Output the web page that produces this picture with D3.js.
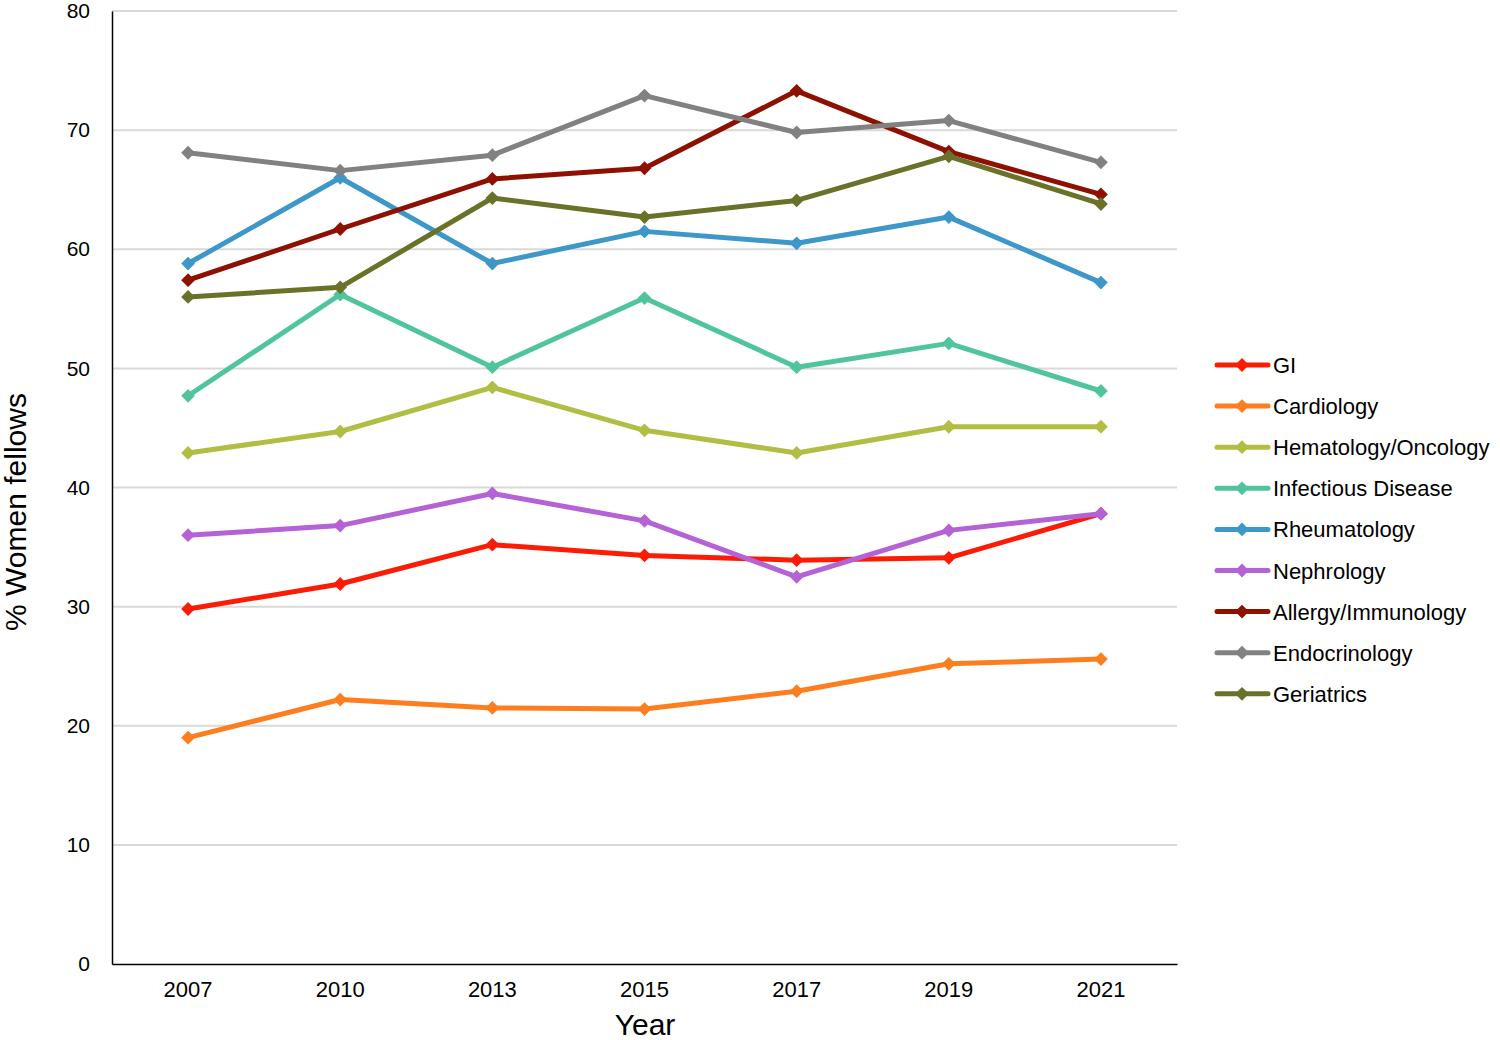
<!DOCTYPE html>
<html><head><meta charset="utf-8">
<script src="https://cdn.jsdelivr.net/npm/d3@7"></script>
<style>body{margin:0;background:#fff;} text{font-family:"Liberation Sans",Arial,sans-serif;}</style>
</head><body>
<svg id="chart" width="1500" height="1040"></svg>
<script>
const years = ["2007","2010","2013","2015","2017","2019","2021"];
const seriesNames = ["GI","Cardiology","Hematology/Oncology","Infectious Disease","Rheumatology","Nephrology","Allergy/Immunology","Endocrinology","Geriatrics"];
const seriesColors = ["#fb1c06","#fd7e1e","#b1be43","#50c59d","#3d97c9","#b462d5","#8e1000","#818181","#6a7229"];
const GI = [29.8,31.9,35.2,34.3,33.9,34.1,37.8];
const Cardiology = [19.0,22.2,21.5,21.4,22.9,25.2,25.6];
const HemOnc = [42.9,44.7,48.4,44.8,42.9,45.1,45.1];
const InfDisease = [47.7,56.2,50.1,55.9,50.1,52.1,48.1];
const Rheumatology = [58.8,66.0,58.8,61.5,60.5,62.7,57.2];
const Nephrology = [36.0,36.8,39.5,37.2,32.5,36.4,37.8];
const Allergy = [57.4,61.7,65.9,66.8,73.3,68.2,64.6];
const Endocrinology = [68.1,66.6,67.9,72.9,69.8,70.8,67.3];
const Geriatrics = [56.0,56.8,64.3,62.7,64.1,67.8,63.8];
const yTicks = [0,10,20,30,40,50,60,70,80];
const allValues = [GI,Cardiology,HemOnc,InfDisease,Rheumatology,Nephrology,Allergy,Endocrinology,Geriatrics];

const svg = d3.select("#chart");
const L = 112, R = 1177, T = 11, B = 964;
const x = d3.scaleBand().domain(years).range([L, R]);
const y = d3.scaleLinear().domain([0, 80]).range([B, T]);

// gridlines
svg.append("g").selectAll("line").data(yTicks.filter(d => d > 0)).join("line")
  .attr("x1", L).attr("x2", R).attr("y1", d => y(d)).attr("y2", d => y(d))
  .attr("stroke", "#d9d9d9").attr("stroke-width", 2);

// y axis
const yAxis = svg.append("g").attr("transform", `translate(${L},0)`)
  .call(d3.axisLeft(y).tickValues(yTicks).tickSize(0).tickPadding(22));
yAxis.select(".domain").attr("stroke", "#000").attr("stroke-width", 1.5);
yAxis.selectAll("text").attr("font-size", 21).attr("fill", "#000")
  .style("font-family", "'Liberation Sans',Arial,sans-serif");

// x axis
const xAxis = svg.append("g").attr("transform", `translate(0,${B})`)
  .call(d3.axisBottom(x).tickSize(0).tickPadding(17));
xAxis.select(".domain").attr("stroke", "#000").attr("stroke-width", 1.5);
xAxis.selectAll("text").attr("font-size", 22).attr("fill", "#000")
  .style("font-family", "'Liberation Sans',Arial,sans-serif");

// axis titles
svg.append("text").attr("x", 645).attr("y", 1035).attr("text-anchor", "middle")
  .attr("font-size", 30).attr("fill", "#000").text("Year");
svg.append("text").attr("transform", "translate(26,512) rotate(-90)")
  .attr("text-anchor", "middle").attr("font-size", 30).attr("fill", "#000").text("% Women fellows");

const line = d3.line().x((d, i) => x(years[i]) + x.bandwidth() / 2).y(d => y(d));
const diamond = d3.symbol().type(d3.symbolSquare).size(95);

seriesNames.forEach((name, si) => {
  const vals = allValues[si];
  const g = svg.append("g");
  g.append("path").datum(vals).attr("d", line).attr("fill", "none")
    .attr("stroke", seriesColors[si]).attr("stroke-width", 5).attr("stroke-linejoin", "round");
  g.selectAll("path.m").data(vals).join("path").attr("class", "m")
    .attr("d", diamond)
    .attr("transform", (d, i) => `translate(${x(years[i]) + x.bandwidth() / 2},${y(d)}) rotate(45)`)
    .attr("fill", seriesColors[si]);
});

// legend
const lg = svg.append("g");
seriesNames.forEach((name, si) => {
  const yy = 365 + si * 41.1;
  lg.append("line").attr("x1", 1217).attr("x2", 1268).attr("y1", yy).attr("y2", yy)
    .attr("stroke", seriesColors[si]).attr("stroke-width", 5).attr("stroke-linecap", "round");
  lg.append("path").attr("d", diamond).attr("transform", `translate(1242,${yy}) rotate(45)`)
    .attr("fill", seriesColors[si]);
  lg.append("text").attr("x", 1273).attr("y", yy + 8).attr("font-size", 22).attr("fill", "#000").text(name);
});
</script>
</body></html>
